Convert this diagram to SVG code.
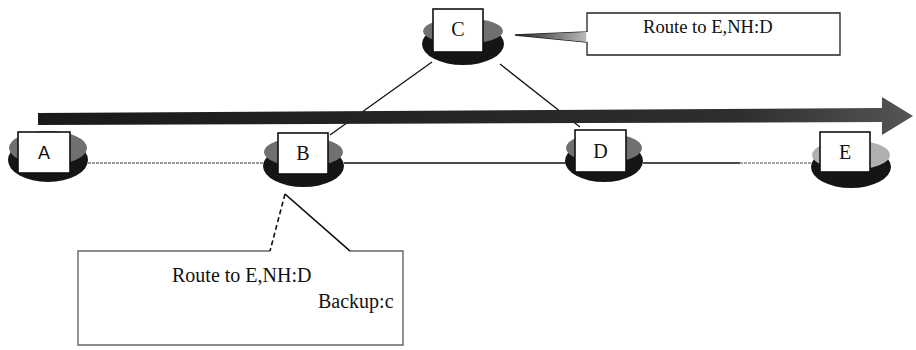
<svg xmlns="http://www.w3.org/2000/svg" width="916" height="350" viewBox="0 0 916 350">
<style>
.box{fill:#fff;stroke:#111;stroke-width:1.6}
.base{fill:#151515}
.top{fill:#707070}
.lbl{font-family:"Liberation Serif","Times New Roman",serif;font-size:20px;fill:#111;text-anchor:middle}
.lbls{font-family:"Liberation Sans",Arial,sans-serif;font-size:18px;fill:#111;text-anchor:middle}
.ct{font-family:"Liberation Serif","Times New Roman",serif;fill:#111}
.ln{stroke:#111;stroke-width:1.3;fill:none}
</style>
<defs>
<linearGradient id="arrowG" x1="0" y1="0" x2="1" y2="0">
<stop offset="0" stop-color="#1a1a1a"/>
<stop offset="0.8" stop-color="#2e2e2e"/>
<stop offset="1" stop-color="#555"/>
</linearGradient>
<linearGradient id="ptrG" x1="0" y1="0" x2="1" y2="0">
<stop offset="0" stop-color="#222"/>
<stop offset="1" stop-color="#bbb"/>
</linearGradient>
</defs>
<rect width="916" height="350" fill="#fff"/>

<g id="connectors">
<line x1="88" y1="163" x2="264" y2="163" stroke="#9a9a9a" stroke-width="2" stroke-dasharray="3 1"/>
<line class="ln" x1="344" y1="163" x2="566" y2="163"/>
<line class="ln" x1="643" y1="163" x2="740" y2="163"/>
<line x1="740" y1="163" x2="812" y2="163" stroke="#888" stroke-width="1.5" stroke-dasharray="3 1"/>
<line class="ln" x1="432" y1="62" x2="330" y2="135"/>
<line class="ln" x1="500" y1="64" x2="580" y2="127"/>
</g>

<g id="flow-arrow">
<polygon points="38,113 882,108 882,97 913,116 882,135 882,122 38,125" fill="url(#arrowG)"/>
</g>

<g id="node-A">
<ellipse class="base" cx="48" cy="160" rx="40" ry="22"/>
<ellipse class="top" cx="48" cy="148" rx="39" ry="17"/>
<rect class="box" x="18" y="132" width="52" height="41"/>
<text class="lbls" x="44" y="159">A</text>
</g>

<g id="node-B">
<ellipse class="base" cx="303.5" cy="166" rx="40.5" ry="21"/>
<ellipse class="top" cx="303.5" cy="152" rx="39.5" ry="15"/>
<rect class="box" x="278" y="133" width="50" height="41"/>
<text class="lbl" x="303" y="160">B</text>
</g>

<g id="node-C">
<ellipse class="base" cx="463" cy="44" rx="41" ry="21"/>
<ellipse class="top" cx="463" cy="31" rx="40" ry="13"/>
<rect class="box" x="433" y="9" width="50" height="43"/>
<text class="lbl" x="458" y="36">C</text>
</g>

<g id="node-D">
<ellipse class="base" cx="604" cy="161" rx="39" ry="21"/>
<ellipse class="top" cx="604" cy="148" rx="38" ry="15"/>
<rect class="box" x="575" y="130" width="51" height="42"/>
<text class="lbl" x="600.5" y="158">D</text>
</g>

<g id="node-E">
<ellipse class="base" cx="851" cy="167" rx="40" ry="21"/>
<ellipse cx="851" cy="155" rx="39" ry="15" fill="#b0b0b0"/>
<rect class="box" x="820" y="132" width="50" height="40"/>
<text class="lbl" x="845" y="159">E</text>
</g>

<g id="callout-C">
<path d="M587,13 L840,13 L840,55 L587,55 L587,42 L515,35 L587,32 Z" fill="#fff" stroke="#222" stroke-width="1.3"/>
<polygon points="515,35 587,32 587,42" fill="url(#ptrG)"/>
<line x1="587" y1="32" x2="587" y2="42" stroke="#fff" stroke-width="1.5"/>
<text class="ct" x="643" y="33" font-size="18.6">Route to E,NH:D</text>
</g>

<g id="callout-B">
<path d="M270,251 L78,251 L78,345 L403,345 L403,251 L350,251 L285,194" fill="#fff" stroke="#666" stroke-width="1.4"/>
<line x1="285" y1="194" x2="270" y2="251" stroke="#111" stroke-width="1.6" stroke-dasharray="5 3"/>
<line x1="285" y1="194" x2="350" y2="251" stroke="#111" stroke-width="1.4"/>
<text class="ct" x="172" y="282" font-size="20">Route to E,NH:D</text>
<text class="ct" x="318" y="308" font-size="20">Backup:c</text>
</g>
</svg>
